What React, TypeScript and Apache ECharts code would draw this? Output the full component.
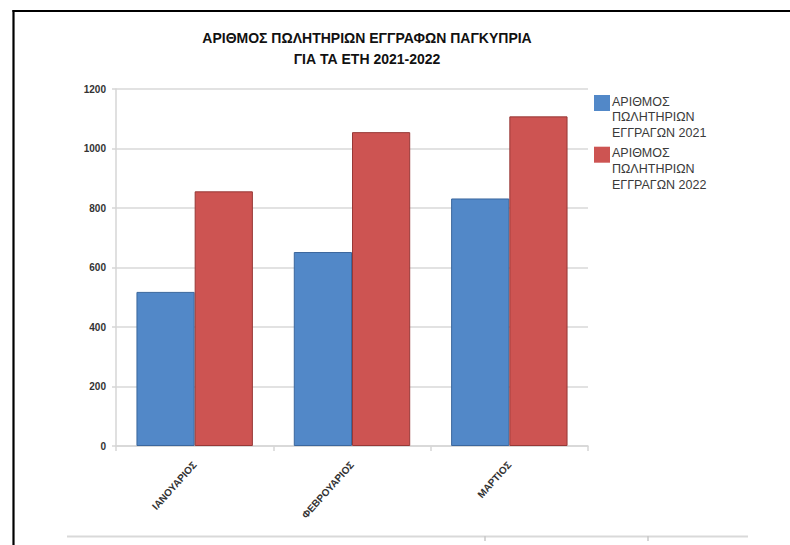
import React, { useEffect, useRef } from "react";
import * as echarts from "echarts";

const categories = ["ΙΑΝΟΥΑΡΙΟΣ", "ΦΕΒΡΟΥΑΡΙΟΣ", "ΜΑΡΤΙΟΣ"];
const values2021 = [518, 652, 832];
const values2022 = [856, 1055, 1108];
const seriesNames = ["ΑΡΙΘΜΟΣ ΠΩΛΗΤΗΡΙΩΝ ΕΓΓΡΑΓΩΝ 2021", "ΑΡΙΘΜΟΣ ΠΩΛΗΤΗΡΙΩΝ ΕΓΓΡΑΓΩΝ 2022"];
const legendLines = [
  ["ΑΡΙΘΜΟΣ", "ΠΩΛΗΤΗΡΙΩΝ", "ΕΓΓΡΑΓΩΝ 2021"],
  ["ΑΡΙΘΜΟΣ", "ΠΩΛΗΤΗΡΙΩΝ", "ΕΓΓΡΑΓΩΝ 2022"],
];
const titleLines = ["ΑΡΙΘΜΟΣ ΠΩΛΗΤΗΡΙΩΝ ΕΓΓΡΑΦΩΝ ΠΑΓΚΥΠΡΙΑ", "ΓΙΑ ΤΑ ΕΤΗ 2021-2022"];
const yMin = 0;
const yMax = 1200;
const yInterval = 200;

const colors = ["#5288c8", "#cd5452"];
const borderColors = ["#3b679d", "#973836"];
const FONT = "'Liberation Sans', Arial, sans-serif";

export default function App() {
  const ref = useRef<HTMLDivElement>(null);
  useEffect(() => {
    if (!ref.current) return;
    const chart = echarts.init(ref.current, null, { renderer: "svg" });
    const legendGraphics: any[] = [];
    legendLines.forEach((lines, i) => {
      const y0 = 95 + i * 51.7;
      legendGraphics.push({
        type: "rect",
        shape: { x: 594, y: y0, width: 16, height: 16 },
        style: { fill: colors[i] },
      });
      legendGraphics.push({
        type: "text",
        x: 612,
        y: y0 - 1,
        style: {
          text: lines.join("\n"),
          fontSize: 12.5,
          lineHeight: 15.6,
          fontFamily: FONT,
          fill: "#3a3a3a",
          verticalAlign: "top",
          align: "left",
        },
      });
    });
    chart.setOption({
      animation: false,
      backgroundColor: "#ffffff",
      title: {
        text: titleLines.join("\n"),
        left: 362,
        top: 22,
        textAlign: "center",
        textStyle: {
          fontFamily: FONT,
          fontSize: 14,
          fontWeight: "bold",
          color: "#111",
          lineHeight: 21,
        },
      },
      legend: { show: false, data: seriesNames },
      grid: { left: 116, right: 202, top: 89, bottom: 99, containLabel: false },
      xAxis: {
        type: "category",
        data: categories,
        axisLine: { lineStyle: { color: "#d6d6d6", width: 1.5 } },
        axisTick: { show: true, length: 5, alignWithLabel: false, lineStyle: { color: "#d6d6d6", width: 1.5 } },
        axisLabel: {
          rotate: 48,
          fontSize: 10,
          fontWeight: "bold",
          fontFamily: FONT,
          color: "#333",
          margin: 17,
        },
      },
      yAxis: {
        type: "value",
        min: yMin,
        max: yMax,
        interval: yInterval,
        axisLine: { show: true, lineStyle: { color: "#d6d6d6", width: 1.5 } },
        axisTick: { show: true, length: 4, lineStyle: { color: "#d6d6d6", width: 1.5 } },
        axisLabel: {
          fontSize: 10,
          fontWeight: "bold",
          fontFamily: FONT,
          color: "#333",
          margin: 10,
          formatter: (v: number) => String(v),
        },
        splitLine: { lineStyle: { color: "#d9d9d9", width: 1.5 } },
      },
      series: [
        {
          name: seriesNames[0],
          type: "bar",
          data: values2021,
          barGap: "0%",
          barCategoryGap: "26%",
          itemStyle: { color: colors[0], borderColor: borderColors[0], borderWidth: 1 },
        },
        {
          name: seriesNames[1],
          type: "bar",
          data: values2022,
          barGap: "0%",
          barCategoryGap: "26%",
          itemStyle: { color: colors[1], borderColor: borderColors[1], borderWidth: 1 },
        },
      ],
      graphic: [
        ...legendGraphics,
        { type: "line", shape: { x1: 13.5, y1: 10, x2: 13.5, y2: 545 }, style: { stroke: "#000", lineWidth: 2.2 } },
        { type: "line", shape: { x1: 12.5, y1: 11, x2: 790, y2: 11 }, style: { stroke: "#000", lineWidth: 2.2 } },
        { type: "line", shape: { x1: 67, y1: 536.5, x2: 748, y2: 536.5 }, style: { stroke: "#d9d9d9", lineWidth: 2 } },
        { type: "line", shape: { x1: 485, y1: 536, x2: 485, y2: 541 }, style: { stroke: "#c8c8c8", lineWidth: 1.5 } },
        { type: "line", shape: { x1: 648, y1: 536, x2: 648, y2: 541 }, style: { stroke: "#c8c8c8", lineWidth: 1.5 } },
      ],
    });
    return () => chart.dispose();
  }, []);
  return (
    <div
      ref={ref}
      style={{ position: "absolute", left: 0, top: 0, width: 790, height: 545 }}
    />
  );
}
